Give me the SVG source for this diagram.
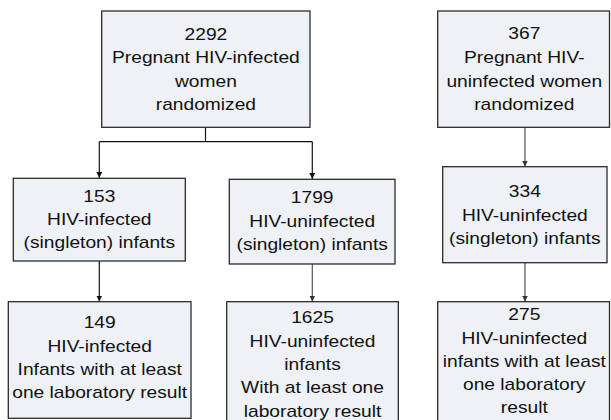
<svg xmlns="http://www.w3.org/2000/svg" width="611" height="420" viewBox="0 0 611 420">
<defs>
<style>
.box{fill:#eef1f6;stroke:#2b2b2b;stroke-width:1.3}
.t{font-family:"Liberation Sans",Arial,sans-serif;font-size:16px;fill:#111;text-anchor:middle}
.c{fill:none;stroke:#111;stroke-width:1.2}
.g{fill:none;stroke:#555;stroke-width:1.2}
</style>
<marker id="ah" viewBox="0 0 6 6" refX="6" refY="3" markerWidth="6" markerHeight="6" markerUnits="userSpaceOnUse" orient="auto">
<path d="M0,0 L6,3 L0,6 z" fill="#111"/>
</marker>
<marker id="ahg" viewBox="0 0 6 6" refX="6" refY="3" markerWidth="6" markerHeight="6" markerUnits="userSpaceOnUse" orient="auto">
<path d="M0,0 L6,3 L0,6 z" fill="#333"/>
</marker>
</defs>
<rect width="611" height="420" fill="#fff"/>

<g id="connectors">
<path class="c" d="M205.5,127.3 V141.7 M99.3,141.7 H312.3"/>
<path class="c" d="M99.3,141.7 V178" marker-end="url(#ah)"/>
<path class="c" d="M312.3,141.7 V179" marker-end="url(#ah)"/>
<path class="g" d="M525,127.3 V166.5" marker-end="url(#ahg)"/>
<path class="c" d="M99.3,261 V301.5" marker-end="url(#ah)"/>
<path class="g" d="M312.3,264 V301.5" marker-end="url(#ahg)"/>
<path class="g" d="M525,262.7 V301.5" marker-end="url(#ahg)"/>
</g>

<g id="n2292">
<rect class="box" x="101.7" y="11" width="208.3" height="116.3"/>
<g class="t" transform="translate(205.9,0) scale(1.2,1)">
<text class="t" x="0" y="40">2292</text>
<text class="t" x="0" y="63.3">Pregnant HIV-infected</text>
<text class="t" x="0" y="86.7">women</text>
<text class="t" x="0" y="110">randomized</text>
</g>
</g>

<g id="n367">
<rect class="box" x="437.7" y="11" width="171.8" height="116.3"/>
<g transform="translate(524.3,0) scale(1.2,1)">
<text class="t" x="0" y="39.5">367</text>
<text class="t" x="0" y="63.3">Pregnant HIV-</text>
<text class="t" x="0" y="86.7">uninfected women</text>
<text class="t" x="0" y="110">randomized</text>
</g>
</g>

<g id="n153">
<rect class="box" x="13.3" y="178.3" width="172" height="82.7"/>
<g transform="translate(99.3,0) scale(1.2,1)">
<text class="t" x="0" y="201.7">153</text>
<text class="t" x="0" y="225">HIV-infected</text>
<text class="t" x="0" y="248.3">(singleton) infants</text>
</g>
</g>

<g id="n1799">
<rect class="box" x="229.3" y="179.3" width="165.7" height="84.7"/>
<g transform="translate(312.2,0) scale(1.2,1)">
<text class="t" x="0" y="203.3">1799</text>
<text class="t" x="0" y="226.7">HIV-uninfected</text>
<text class="t" x="0" y="250">(singleton) infants</text>
</g>
</g>

<g id="n334">
<rect class="box" x="442.7" y="166.7" width="164.3" height="96"/>
<g transform="translate(524.8,0) scale(1.2,1)">
<text class="t" x="0" y="197.3">334</text>
<text class="t" x="0" y="220.7">HIV-uninfected</text>
<text class="t" x="0" y="244">(singleton) infants</text>
</g>
</g>

<g id="n149">
<rect class="box" x="8.3" y="301.7" width="182.7" height="116.6"/>
<g transform="translate(99.7,0) scale(1.2,1)">
<text class="t" x="0" y="328.3">149</text>
<text class="t" x="0" y="351.7">HIV-infected</text>
<text class="t" x="0" y="375">Infants with at least</text>
<text class="t" x="0" y="398.5">one laboratory result</text>
</g>
</g>

<g id="n1625">
<rect class="box" x="226.7" y="301.7" width="171.6" height="125"/>
<g transform="translate(312.5,0) scale(1.2,1)">
<text class="t" x="0" y="323.3">1625</text>
<text class="t" x="0" y="346.7">HIV-uninfected</text>
<text class="t" x="0" y="370">infants</text>
<text class="t" x="0" y="393.3">With at least one</text>
<text class="t" x="0" y="416.7">laboratory result</text>
</g>
</g>

<g id="n275">
<rect class="box" x="437.7" y="301.7" width="171.8" height="125"/>
<g transform="translate(524.3,0) scale(1.2,1)">
<text class="t" x="0" y="320">275</text>
<text class="t" x="0" y="344">HIV-uninfected</text>
<text class="t" x="0" y="366.7">infants with at least</text>
<text class="t" x="0" y="390">one laboratory</text>
<text class="t" x="0" y="413.3">result</text>
</g>
</g>
</svg>
